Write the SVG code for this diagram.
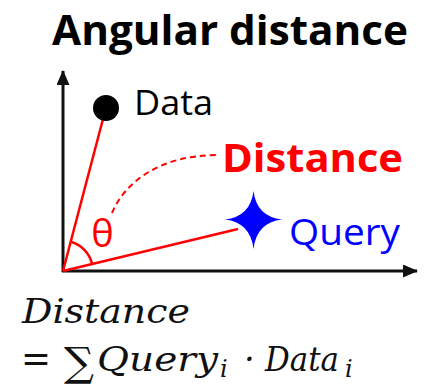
<svg xmlns="http://www.w3.org/2000/svg" width="446" height="384" viewBox="0 0 446 384">
<defs>
<style>
.sans{font-family:"Open Sans","Liberation Sans",sans-serif}
.math{font-family:"DejaVu Serif","Liberation Serif",serif;font-style:italic;fill:#111}
.axis{stroke:#111;stroke-width:3;fill:none}
.vec{stroke:#ff0000;stroke-width:2.5;fill:none}
</style>
<marker id="ah" viewBox="0 0 15 13" refX="14" refY="6.5" markerWidth="15" markerHeight="13" markerUnits="userSpaceOnUse" orient="auto">
<path d="M0,0 L15,6.5 L0,13 Z" fill="#111"/>
</marker>
</defs>
<rect width="446" height="384" fill="#fff"/>
<text id="title" class="sans" x="52" y="45" font-size="41" font-weight="bold" textLength="356" lengthAdjust="spacingAndGlyphs" fill="#000">Angular distance</text>
<g id="connectors">
<path class="axis" d="M63,272 L63,71" marker-end="url(#ah)"/>
<path class="axis" d="M62,271 L417,271" marker-end="url(#ah)"/>
<path class="vec" d="M63,271 L103,119"/>
<path class="vec" d="M63,271 L238,229"/>
<path class="vec" d="M71.5,242 A30,30 0 0 1 92,263.5"/>
<path d="M112,213 C125,182 160,155 218,155" fill="none" stroke="#ff0000" stroke-width="2" stroke-dasharray="6,4"/>
</g>
<g id="data">
<circle cx="106" cy="108" r="13" fill="#000"/>
<text class="sans" x="134" y="115" font-size="35" fill="#000" textLength="79" lengthAdjust="spacingAndGlyphs">Data</text>
</g>
<g id="query">
<path d="M253.5,191 Q256.5,216.5 282,219.5 Q256.5,222.5 253.5,249 Q250.5,222.5 225,219.5 Q250.5,216.5 253.5,191 Z" fill="#0000ff"/>
<text class="sans" x="289" y="245" font-size="37" fill="#0000ff" textLength="111" lengthAdjust="spacingAndGlyphs">Query</text>
</g>
<g id="distance-label">
<text class="sans" x="222" y="172" font-size="40" font-weight="bold" fill="#ff0000" textLength="181" lengthAdjust="spacingAndGlyphs">Distance</text>
</g>
<g id="theta">
<text class="sans" x="102.5" y="247" font-size="38" fill="#ff0000" text-anchor="middle">θ</text>
</g>
<g id="formula">
<text class="math" x="22" y="323" font-size="34" textLength="168" lengthAdjust="spacingAndGlyphs">Distance</text>
<text class="math" x="21" y="372" font-size="40" font-style="normal" textLength="30" lengthAdjust="spacingAndGlyphs">=</text>
<text class="math" x="64" y="376" font-size="40" font-style="normal" textLength="30" lengthAdjust="spacingAndGlyphs">∑</text>
<text class="math" x="97" y="371" font-size="34" textLength="121" lengthAdjust="spacingAndGlyphs">Query</text>
<text class="math" x="220" y="377" font-size="24">i</text>
<text class="math" x="244" y="371" font-size="34" font-style="normal">·</text>
<text class="math" x="265" y="371" font-size="34" textLength="74" lengthAdjust="spacingAndGlyphs">Data</text>
<text class="math" x="345" y="377" font-size="24">i</text>
</g>
</svg>
